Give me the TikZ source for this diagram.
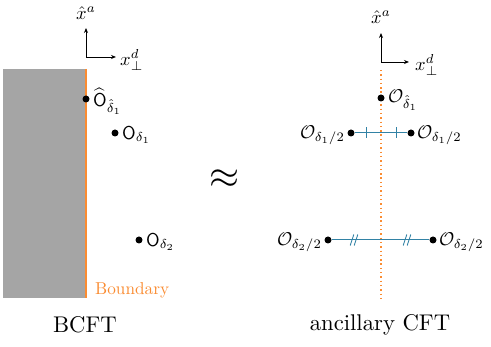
\documentclass[tikz,border=0pt]{standalone}
\usepackage{amsmath,amssymb,graphicx}
\usetikzlibrary{arrows.meta}
\definecolor{bord}{RGB}{250,140,50}
\definecolor{myteal}{RGB}{50,130,165}
\definecolor{wallgray}{RGB}{165,165,165}
\newcommand{\sclab}[1]{\scalebox{1.85}{#1}}
\newcommand{\sccap}[1]{\scalebox{2.27}{#1}}
\begin{document}
\begin{tikzpicture}[x=1pt,y=-1pt,
  ax/.style={line width=0.9pt,-{Stealth[length=5pt,width=4pt]}},
  pt/.style={circle,fill=black,inner sep=0pt,minimum size=7pt},
  lab/.style={inner sep=1pt},
  tickmark/.style={myteal,line width=0.9pt}]
\useasboundingbox (0,0) rectangle (491,347);
% left wall
\fill[wallgray] (3,69) rectangle (86,298);
\draw[bord,line width=1.3pt] (86,69) -- (86,298);
\node[text=bord,anchor=west,inner sep=0pt] (bd) at (95,290) {\scalebox{1.72}{Boundary}};
% left axes
\coordinate (o1) at (86,57);
\coordinate (u1) at (86,28);
\coordinate (r1) at (116,57);
\draw[ax] (o1) -- (u1);
\draw[ax] (o1) -- (r1);
\node[lab] (xa1) at (86,13) {\sclab{$\hat{x}^a$}};
\node[lab,anchor=west] (xd1) at (119,60) {\sclab{$x_{\perp}^{d}$}};
% left points
\node[pt] (p1) at (86,99) {};
\node[lab,anchor=west] (l1) at (92,101) {\sclab{$\widehat{\mathsf{O}}_{\hat\delta_1}$}};
\node[pt] (p2) at (115,133) {};
\node[lab,anchor=west] (l2) at (121,135) {\sclab{$\mathsf{O}_{\delta_1}$}};
\node[pt] (p3) at (139,240) {};
\node[lab,anchor=west] (l3) at (145,242) {\sclab{$\mathsf{O}_{\delta_2}$}};
% approx
\node[inner sep=0pt] (ap) at (225,179) {\scalebox{3.86}{$\approx$}};
% captions
\node (c1) at (85,325) {\sccap{BCFT}};
\node (c2) at (380,325) {\sccap{ancillary CFT}};
% right axes
\coordinate (o2) at (381,62);
\coordinate (u2) at (381,33);
\coordinate (r2) at (409,62);
\draw[ax] (o2) -- (u2);
\draw[ax] (o2) -- (r2);
\node[lab] (xa2) at (381,17) {\sclab{$\hat{x}^a$}};
\node[lab,anchor=west] (xd2) at (414,65) {\sclab{$x_{\perp}^{d}$}};
% dotted line
\coordinate (dt) at (381,70);
\coordinate (db) at (381,299);
\draw[bord,line width=1.4pt,dash pattern=on 1.4pt off 2.9pt] (dt) -- (db);
% right points
\node[pt] (q0) at (381,98) {};
\node[lab,anchor=west] (m0) at (387,100) {\sclab{$\mathcal{O}_{\hat\delta_1}$}};
\node[pt] (q1) at (351,133) {};
\node[pt] (q2) at (411,133) {};
\draw[myteal,line width=1pt] (q1) -- (q2);
\draw[tickmark] (366,127.5) -- (366,138.5);
\draw[tickmark] (396,127.5) -- (396,138.5);
\node[lab,anchor=east] (m1) at (346,135) {\sclab{$\mathcal{O}_{\delta_1/2}$}};
\node[lab,anchor=west] (m2) at (416,135) {\sclab{$\mathcal{O}_{\delta_1/2}$}};
\node[pt] (q3) at (328,240) {};
\node[pt] (q4) at (433,240) {};
\draw[myteal,line width=1pt] (q3) -- (q4);
\foreach \xx in {352,356,405,409}{
  \draw[tickmark] (\xx-1.8,245.5) -- (\xx+1.8,234.5);}
\node[lab,anchor=east] (m3) at (323,242) {\sclab{$\mathcal{O}_{\delta_2/2}$}};
\node[lab,anchor=west] (m4) at (438,242) {\sclab{$\mathcal{O}_{\delta_2/2}$}};
\end{tikzpicture}
\end{document}
